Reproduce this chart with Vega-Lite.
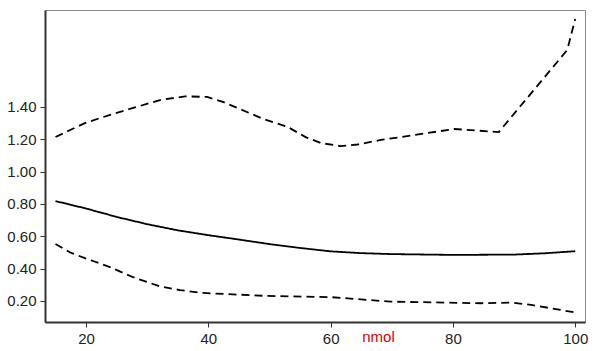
{
  "$schema": "https://vega.github.io/schema/vega-lite/v6.json",
  "width": 540,
  "height": 312,
  "autosize": "none",
  "padding": {"left": 45, "top": 10, "right": 21, "bottom": 29},
  "background": "white",
  "config": {
    "view": {"stroke": "#8a8a8a", "strokeWidth": 1},
    "font": "Liberation Sans"
  },
  "data": {
    "values": [
      {"x": 15, "y": 0.818, "s": "est"},
      {"x": 20, "y": 0.772, "s": "est"},
      {"x": 25, "y": 0.72, "s": "est"},
      {"x": 30, "y": 0.675, "s": "est"},
      {"x": 35, "y": 0.637, "s": "est"},
      {"x": 40, "y": 0.607, "s": "est"},
      {"x": 45, "y": 0.58, "s": "est"},
      {"x": 50, "y": 0.552, "s": "est"},
      {"x": 55, "y": 0.528, "s": "est"},
      {"x": 60, "y": 0.507, "s": "est"},
      {"x": 65, "y": 0.496, "s": "est"},
      {"x": 70, "y": 0.49, "s": "est"},
      {"x": 80, "y": 0.485, "s": "est"},
      {"x": 90, "y": 0.487, "s": "est"},
      {"x": 95, "y": 0.495, "s": "est"},
      {"x": 100, "y": 0.508, "s": "est"},

      {"x": 15, "y": 1.214, "s": "upper"},
      {"x": 17.4, "y": 1.258, "s": "upper"},
      {"x": 19.8, "y": 1.3, "s": "upper"},
      {"x": 22.3, "y": 1.332, "s": "upper"},
      {"x": 27.7, "y": 1.394, "s": "upper"},
      {"x": 32.1, "y": 1.443, "s": "upper"},
      {"x": 36.2, "y": 1.466, "s": "upper"},
      {"x": 39.8, "y": 1.462, "s": "upper"},
      {"x": 42.5, "y": 1.43, "s": "upper"},
      {"x": 49, "y": 1.326, "s": "upper"},
      {"x": 53, "y": 1.276, "s": "upper"},
      {"x": 55.9, "y": 1.214, "s": "upper"},
      {"x": 58.4, "y": 1.177, "s": "upper"},
      {"x": 61.6, "y": 1.158, "s": "upper"},
      {"x": 64.4, "y": 1.168, "s": "upper"},
      {"x": 68.2, "y": 1.196, "s": "upper"},
      {"x": 71.5, "y": 1.214, "s": "upper"},
      {"x": 80.2, "y": 1.264, "s": "upper"},
      {"x": 87.5, "y": 1.245, "s": "upper"},
      {"x": 98.7, "y": 1.753, "s": "upper"},
      {"x": 100, "y": 1.945, "s": "upper"},

      {"x": 15, "y": 0.552, "s": "lower"},
      {"x": 17.4, "y": 0.5, "s": "lower"},
      {"x": 19.8, "y": 0.465, "s": "lower"},
      {"x": 23.9, "y": 0.41, "s": "lower"},
      {"x": 27.7, "y": 0.347, "s": "lower"},
      {"x": 32.1, "y": 0.29, "s": "lower"},
      {"x": 35.4, "y": 0.267, "s": "lower"},
      {"x": 39, "y": 0.25, "s": "lower"},
      {"x": 49, "y": 0.232, "s": "lower"},
      {"x": 60, "y": 0.224, "s": "lower"},
      {"x": 69.8, "y": 0.196, "s": "lower"},
      {"x": 84.6, "y": 0.186, "s": "lower"},
      {"x": 89.5, "y": 0.19, "s": "lower"},
      {"x": 92.8, "y": 0.176, "s": "lower"},
      {"x": 99.8, "y": 0.13, "s": "lower"}
    ]
  },
  "mark": {"type": "line", "strokeWidth": 1.8},
  "encoding": {
    "x": {
      "field": "x", "type": "quantitative",
      "scale": {"domain": [13.28, 101.6], "nice": false, "zero": false},
      "axis": {
        "values": [20, 40, 60, 80, 100],
        "grid": false,
        "domainColor": "#333", "domainWidth": 2,
        "tickColor": "#333", "tickSize": 5, "tickWidth": 1,
        "labelFontSize": 15, "labelColor": "#222", "labelPadding": 4,
        "title": "nmol", "titleColor": "#e00000", "titleFontSize": 15,
        "titleFontWeight": "normal",
        "titleX": 333, "titleY": 14, "titleBaseline": "middle"
      }
    },
    "y": {
      "field": "y", "type": "quantitative",
      "scale": {"domain": [0.07, 2.0], "nice": false, "zero": false},
      "axis": {
        "values": [0.2, 0.4, 0.6, 0.8, 1.0, 1.2, 1.4],
        "format": ".2f",
        "grid": false,
        "domainColor": "#333", "domainWidth": 2,
        "tickColor": "#333", "tickSize": 5, "tickWidth": 1,
        "labelFontSize": 15, "labelColor": "#222", "labelPadding": 4,
        "title": null
      }
    },
    "detail": {"field": "s"},
    "color": {"value": "black"},
    "strokeDash": {
      "field": "s", "type": "nominal",
      "scale": {"domain": ["est", "upper", "lower"], "range": [[1, 0], [8, 5], [8, 5]]},
      "legend": null
    }
  }
}
